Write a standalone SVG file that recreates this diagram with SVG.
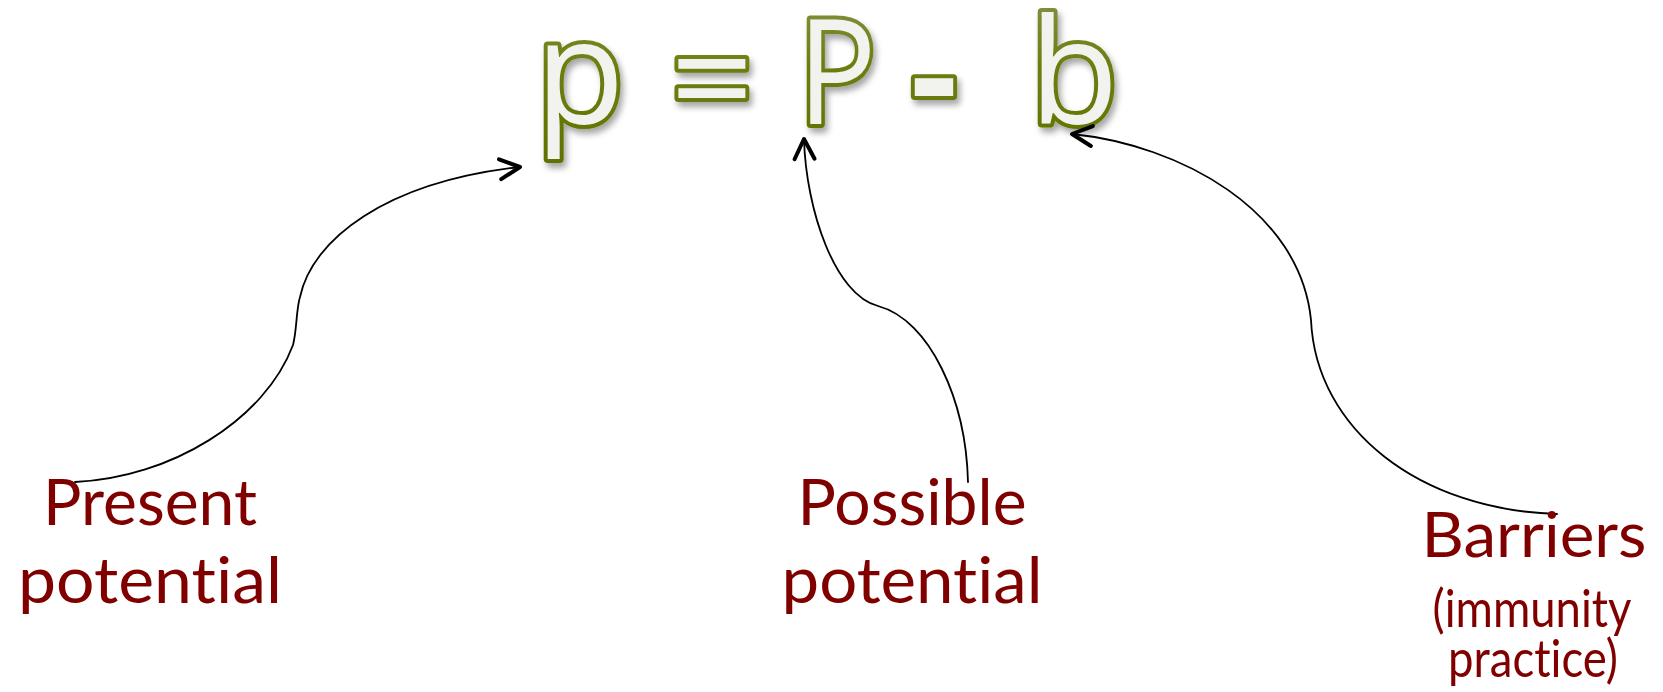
<svg xmlns="http://www.w3.org/2000/svg" width="1663" height="692" viewBox="0 0 1663 692">
  <style>
    .eq { font-family: "Open Sans", "DejaVu Sans", sans-serif; font-size: 146px; fill: #f2f2ee; stroke: url(#olive); stroke-width: 8; stroke-linejoin: round; text-anchor: middle; paint-order: stroke fill; }
    .lbl { font-family: Lato, "Open Sans", sans-serif; fill: #800000; text-anchor: middle; font-variant-ligatures: none; }
    .big { font-size: 64px; }
    .small { font-size: 52px; }
    .conn { fill: none; stroke: #000; stroke-width: 1.8; stroke-linecap: round; }
  </style>
  <defs>
    <linearGradient id="olive" x1="0" y1="0" x2="0" y2="1">
      <stop offset="0" stop-color="#8a9857"/>
      <stop offset="0.5" stop-color="#6c7d0c"/>
      <stop offset="1" stop-color="#5f7200"/>
    </linearGradient>
    <filter id="shadow" x="-20%" y="-20%" width="140%" height="140%">
      <feDropShadow dx="3" dy="5" stdDeviation="3" flood-color="#000" flood-opacity="0.35"/>
    </filter>
    <marker id="arrow" markerUnits="userSpaceOnUse" viewBox="-26 -14 30 28" markerWidth="30" markerHeight="28" refX="0" refY="0" orient="auto">
      <path d="M-20,-10 L0,0 L-20,10" fill="none" stroke="#000" stroke-width="4" stroke-linecap="round" stroke-linejoin="round"/>
    </marker>
  </defs>
  <rect width="1663" height="692" fill="#fff"/>

  <g id="formula" filter="url(#shadow)">
    <text class="eq" x="580" y="124">p</text>
    <text class="eq" x="712" y="130">=</text>
    <text class="eq" transform="translate(837,124) scale(0.9,1)">P</text>
    <text class="eq" x="934" y="126" font-weight="700">-</text>
    <text class="eq" x="1074" y="124">b</text>
  </g>

  <g id="connectors">
    <path class="conn" marker-end="url(#arrow)" d="M75,482 C170,478 265,420 293,345 C297,330 296,310 300,297 C312,240 385,182 520,167"/>
    <path class="conn" marker-end="url(#arrow)" d="M968,482 C966,400 930,320 878,306 C835,295 806,210 804,139"/>
    <path class="conn" marker-end="url(#arrow)" d="M1557,514 C1420,510 1316,430 1311,320 C1300,210 1180,145 1072,134"/>
  </g>

  <g id="label-present">
    <text class="lbl big" x="150" y="525" textLength="214" lengthAdjust="spacingAndGlyphs">Present</text>
    <text class="lbl big" x="150" y="603" textLength="264" lengthAdjust="spacingAndGlyphs">potential</text>
  </g>

  <g id="label-possible">
    <text class="lbl big" x="912" y="525" textLength="229" lengthAdjust="spacingAndGlyphs">Possible</text>
    <text class="lbl big" x="912" y="603" textLength="261" lengthAdjust="spacingAndGlyphs">potential</text>
  </g>

  <g id="label-barriers">
    <text class="lbl" font-size="62" x="1534" y="557" textLength="225" lengthAdjust="spacingAndGlyphs">Barriers</text>
    <text class="lbl small" x="1532" y="627" textLength="199" lengthAdjust="spacingAndGlyphs">(immunity</text>
    <text class="lbl small" x="1533" y="677" textLength="170" lengthAdjust="spacingAndGlyphs">practice)</text>
  </g>
</svg>
